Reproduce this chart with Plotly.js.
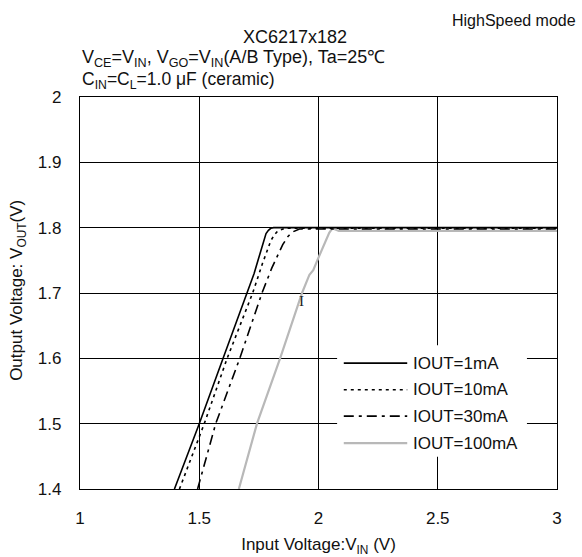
<!DOCTYPE html>
<html>
<head>
<meta charset="utf-8">
<script src="https://cdn.plot.ly/plotly-3.0.1.min.js"></script>
<style>html,body{margin:0;padding:0;background:#fff;}#chart{width:582px;height:557px;}</style>
</head>
<body>
<div id="chart"></div>
<script>
// ---- data ----
const seriesNames = ["IOUT=1mA", "IOUT=10mA", "IOUT=30mA", "IOUT=100mA"];

const vin_1mA  = [1.396, 1.500, 1.600, 1.700, 1.730, 1.748, 1.760, 1.770, 1.780, 1.790, 1.800, 1.812, 1.830, 2.000, 2.500, 3.000];
const vout_1mA = [1.400, 1.500, 1.600, 1.700, 1.730, 1.752, 1.767, 1.781, 1.791, 1.796, 1.799, 1.800, 1.800, 1.800, 1.800, 1.800];

const vin_10mA  = [1.417, 1.521, 1.617, 1.724, 1.765, 1.785, 1.800, 1.815, 1.829, 1.860, 2.000, 3.000];
const vout_10mA = [1.400, 1.500, 1.600, 1.700, 1.745, 1.767, 1.780, 1.789, 1.795, 1.799, 1.799, 1.799];

const vin_30mA  = [1.493, 1.569, 1.670, 1.763, 1.804, 1.830, 1.850, 1.873, 1.895, 1.920, 2.000, 3.000];
const vout_30mA = [1.400, 1.500, 1.600, 1.700, 1.738, 1.760, 1.774, 1.787, 1.794, 1.798, 1.798, 1.798];

const vin_100mA  = [1.666, 1.742, 1.839, 1.931, 1.962, 1.978, 1.995, 2.020, 2.045, 2.058, 2.070, 2.085, 3.000];
const vout_100mA = [1.400, 1.500, 1.600, 1.700, 1.728, 1.735, 1.750, 1.772, 1.792, 1.799, 1.797, 1.795, 1.795];

const xTicks = [1, 1.5, 2, 2.5, 3];
const xTickText = ["1", "1.5", "2", "2.5", "3"];
const yTicks = [1.4, 1.5, 1.6, 1.7, 1.8, 1.9, 2];
const yTickText = ["1.4", "1.5", "1.6", "1.7", "1.8", "1.9", "2"];

// ---- styles ----
const styles = [
  {color: "#000000", width: 1.6, dash: "solid"},
  {color: "#000000", width: 1.6, dash: "3px,4px"},
  {color: "#000000", width: 1.6, dash: "10px,5px,3px,5px"},
  {color: "#b8b8b8", width: 2.2, dash: "solid"}
];
const xs = [vin_1mA, vin_10mA, vin_30mA, vin_100mA];
const ys = [vout_1mA, vout_10mA, vout_30mA, vout_100mA];

const FONT = "Liberation Sans, Arial, sans-serif";
const TXT = "#111111";

// draw gray first so black lines sit on top
const order = [3, 2, 1, 0];
const traces = order.map(i => ({
  x: xs[i], y: ys[i], type: "scatter", mode: "lines", name: seriesNames[i],
  line: {color: styles[i].color, width: styles[i].width, dash: styles[i].dash},
  showlegend: false, hoverinfo: "skip"
}));

// custom legend (box + samples + labels)
const legX0 = 0.539, legX1 = 0.937, legY0 = 0.082, legY1 = 0.367;
const legRowY = [0.321, 0.253, 0.186, 0.117];
const shapes = [{type: "rect", xref: "paper", yref: "paper", x0: legX0, x1: legX1, y0: legY0, y1: legY1,
  fillcolor: "#ffffff", line: {width: 0}, layer: "above"}];
const annotations = [];
seriesNames.forEach((n, i) => {
  shapes.push({type: "line", xref: "paper", yref: "paper", x0: 0.553, x1: 0.686, y0: legRowY[i], y1: legRowY[i],
    line: {color: styles[i].color, width: styles[i].width, dash: styles[i].dash}, layer: "above"});
  annotations.push({xref: "paper", yref: "paper", x: 0.693, y: legRowY[i], xanchor: "left", yanchor: "middle",
    text: n, showarrow: false, font: {family: FONT, size: 17, color: TXT}});
});

// header texts
annotations.push({xref: "paper", yref: "paper", x: 1.044, y: 1.196, xanchor: "right", yanchor: "middle",
  text: "HighSpeed mode", showarrow: false, font: {family: FONT, size: 16, color: TXT}});
annotations.push({xref: "paper", yref: "paper", x: 0.451, y: 1.153, xanchor: "center", yanchor: "middle",
  text: "XC6217x182", showarrow: false, font: {family: FONT, size: 18, color: TXT}});
annotations.push({xref: "paper", yref: "paper", x: 0.0, y: 1.099, xanchor: "left", yanchor: "middle",
  text: "V<sub>CE</sub>=V<sub>IN</sub>, V<sub>GO</sub>=V<sub>IN</sub>(A/B Type), Ta=25℃", showarrow: false,
  font: {family: FONT, size: 18, color: TXT}});
annotations.push({xref: "paper", yref: "paper", x: 0.0, y: 1.043, xanchor: "left", yanchor: "middle",
  text: "C<sub>IN</sub>=C<sub>L</sub>=1.0 μF (ceramic)", showarrow: false,
  font: {family: FONT, size: 17.5, color: TXT}});
// y axis title placed as rotated text
annotations.push({xref: "paper", yref: "paper", x: -0.130, y: 0.508, xanchor: "center", yanchor: "middle",
  textangle: -90, text: "Output Voltage: V<sub>OUT</sub>(V)", showarrow: false,
  font: {family: FONT, size: 17, color: TXT}});
// small marker visible in the reference
annotations.push({xref: "x", yref: "y", x: 1.93, y: 1.687, text: "I", showarrow: false,
  font: {family: "Liberation Serif, serif", size: 15, color: "#222"}});

const layout = {
  width: 582, height: 557,
  margin: {l: 80, r: 25, t: 97, b: 68, pad: 0},
  paper_bgcolor: "#ffffff", plot_bgcolor: "#ffffff",
  font: {family: FONT, size: 16, color: TXT},
  xaxis: {
    range: [1, 3], tickvals: xTicks, ticktext: xTickText, ticks: "", ticklabelstandoff: 13,
    showgrid: true, gridcolor: "#000", gridwidth: 1, zeroline: false,
    showline: true, linecolor: "#000", linewidth: 1.2, mirror: true,
    tickfont: {family: FONT, size: 17, color: TXT},
    title: {text: "Input Voltage:V<sub>IN</sub> (V)", standoff: 12, font: {family: FONT, size: 17, color: TXT}},
    automargin: false, fixedrange: true
  },
  yaxis: {
    range: [1.4, 2], tickvals: yTicks, ticktext: yTickText, ticks: "", ticklabelstandoff: 14,
    showgrid: true, gridcolor: "#000", gridwidth: 1, zeroline: false,
    showline: true, linecolor: "#000", linewidth: 1.2, mirror: true,
    tickfont: {family: FONT, size: 17, color: TXT},
    automargin: false, fixedrange: true
  },
  shapes: shapes,
  annotations: annotations,
  showlegend: false
};

Plotly.newPlot("chart", traces, layout, {displayModeBar: false});
</script>
</body>
</html>
